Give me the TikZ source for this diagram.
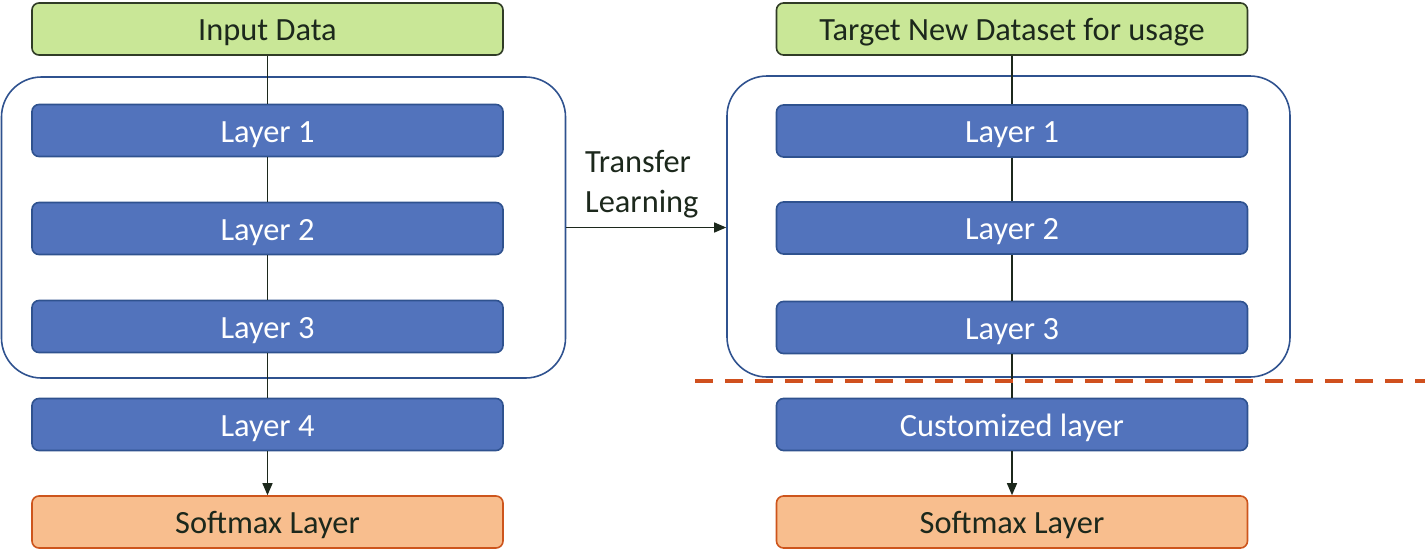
\documentclass[tikz,border=0pt]{standalone}
\usepackage{fontspec}
\setmainfont{Carlito}
\usepackage{tikz}
\usetikzlibrary{arrows.meta,positioning,calc}
\usepackage{xcolor}
\definecolor{inputgreen}{RGB}{201,231,151}
\definecolor{inputedge}{RGB}{48,60,38}
\definecolor{layerblue}{RGB}{82,115,188}
\definecolor{layeredge}{RGB}{47,82,143}
\definecolor{softorange}{RGB}{248,190,142}
\definecolor{softedge}{RGB}{205,85,28}
\definecolor{frameblue}{RGB}{47,82,143}
\definecolor{cutred}{RGB}{208,80,30}
\definecolor{textdark}{RGB}{28,40,28}

\begin{document}
\begin{tikzpicture}[x=1pt,y=-1pt,
    box/.style={rounded corners=7pt,line width=1.6pt,minimum width=471pt,minimum height=52pt,
      inner sep=0pt,text height=23.5pt,text depth=0pt,font=\fontsize{32.4}{40}\selectfont},
    databox/.style={box,draw=inputedge,fill=inputgreen,text=textdark},
    layerbox/.style={box,draw=layeredge,fill=layerblue,text=white},
    softbox/.style={box,draw=softedge,fill=softorange,text=textdark},
    frame/.style={draw=frameblue,line width=1.6pt,rounded corners=40pt,inner sep=0pt},
    link/.style={draw=textdark,line width=1.3pt},
    arrowlink/.style={-{Triangle[length=12pt,width=10pt]}}]
    \useasboundingbox (0,0) rectangle (1425,550);
    % frames round the shared layers
    \node[frame,minimum width=564pt,minimum height=301pt] (lframe) at (283.5,227.5) {};
    \node[frame,minimum width=563pt,minimum height=301pt] (rframe) at (1008.5,226.5) {};
    % source network (left)
    \node[databox]  (lin)   at (267.5,29)    {Input Data};
    \node[layerbox] (l1)    at (267.5,130.5) {Layer 1};
    \node[layerbox] (l2)    at (267.5,228.5) {Layer 2};
    \node[layerbox] (l3)    at (267.5,326.5) {Layer 3};
    \node[layerbox] (l4)    at (267.5,424.5) {Layer 4};
    \node[softbox]  (lsoft) at (267.5,522)   {Softmax Layer};
    % target network (right)
    \node[databox]  (rin)   at (1012,29)    {Target New Dataset for usage};
    \node[layerbox] (r1)    at (1012,131)   {Layer 1};
    \node[layerbox] (r2)    at (1012,228)   {Layer 2};
    \node[layerbox] (r3)    at (1012,327.5) {Layer 3};
    \node[layerbox] (rcust) at (1012,424.5) {Customized layer};
    \node[softbox]  (rsoft) at (1012,522)   {Softmax Layer};
    % connectors
    \foreach \a/\b in {lin/l1,l1/l2,l2/l3,l3/l4,rin/r1,r1/r2,r2/r3,r3/rcust}
      \draw[link] (\a.south) -- (\b.north);
    \draw[link,arrowlink] (l4.south) -- (lsoft.north);
    \draw[link,arrowlink] (rcust.south) -- (rsoft.north);
    \draw[link,arrowlink] (lframe.east) -- (lframe.east -| rframe.west);
    \node[align=left,anchor=west,inner sep=0pt,text=textdark,
      font=\fontsize{32.4}{40}\selectfont] (tl) at (585,184) {Transfer\\Learning};
    % cut line
    \draw[cutred,line width=4pt,dash pattern=on 18pt off 12pt] (695,381) -- (1425,381);
\end{tikzpicture}
\end{document}
